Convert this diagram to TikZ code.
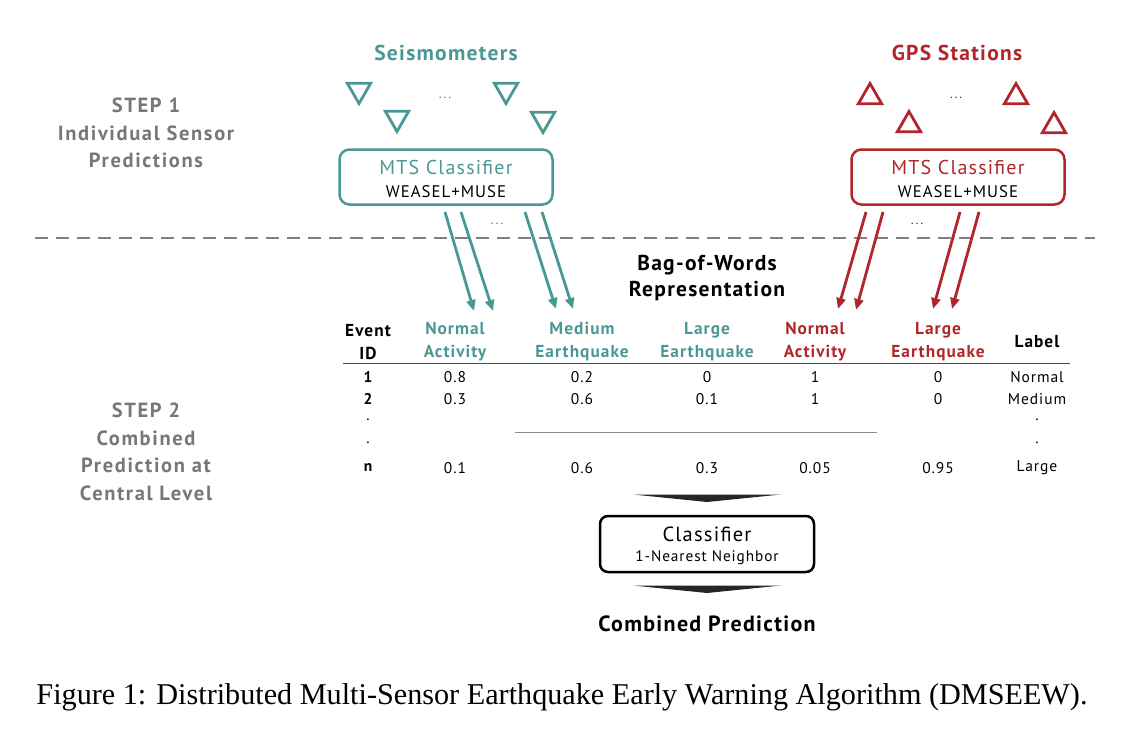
\documentclass[tikz,border=0pt]{standalone}
\usepackage{fontspec}
\setmainfont{Liberation Serif}
\newfontfamily\df{PT Sans}[LetterSpace=6]
\newfontfamily\dfw{PT Sans}[LetterSpace=8]
\usetikzlibrary{arrows.meta,shapes.geometric}
\definecolor{tealc}{HTML}{4A9896}
\definecolor{redc}{HTML}{B0262A}
\definecolor{stepgray}{HTML}{777777}
\definecolor{dashgray}{HTML}{808080}
\begin{document}
\begin{tikzpicture}[x=1pt,y=-1pt,
  sensorS/.style={regular polygon, regular polygon sides=3, shape border rotate=180, draw=tealc, line width=2.8pt, minimum size=27pt, inner sep=0pt},
  sensorG/.style={regular polygon, regular polygon sides=3, draw=redc, line width=2.8pt, minimum size=27pt, inner sep=0pt},
  mts/.style={draw, rounded corners=10pt, line width=2.5pt, minimum width=213pt, minimum height=55pt, inner sep=0pt},
  title/.style={font=\df\bfseries\fontsize{21.5}{24}\selectfont},
  steptxt/.style={font=\dfw\bfseries\fontsize{20.5}{27.5}\selectfont, text=stepgray, align=center},
  hdr/.style={font=\df\bfseries\fontsize{17.3}{23}\selectfont, align=center},
  cell/.style={font=\df\fontsize{15.5}{17}\selectfont},
  idcell/.style={font=\df\bfseries\fontsize{15.5}{17}\selectfont},
  dotsn/.style={font=\df\fontsize{14}{16}\selectfont},
  arrS/.style={draw=tealc, line width=2.8pt, -{Triangle[length=11pt,width=9pt]}},
  arrG/.style={draw=redc, line width=2.8pt, -{Triangle[length=11pt,width=9pt]}},
  wedge/.style={fill=black!85}
]
\useasboundingbox (0,0) rectangle (1123,731);

% Step labels
\node[steptxt] (step1) at (146,133) {STEP 1\\Individual Sensor\\Predictions};
\node[steptxt] (step2) at (146,452) {STEP 2\\Combined\\Prediction at\\Central Level};

% Titles
\node[title, text=tealc] (seis) at (446,53) {Seismometers};
\node[title, text=redc] (gps) at (957,53) {GPS Stations};

% Seismometer triangles
\node[sensorS] (s1) at (359,90) {};
\node[sensorS] (s2) at (397,118) {};
\node[sensorS] (s3) at (506,90) {};
\node[sensorS] (s4) at (543,119) {};
\node[dotsn, text=tealc] (sdots) at (445,98) {...};

% GPS triangles
\node[sensorG] (g1) at (870,97) {};
\node[sensorG] (g2) at (909,125) {};
\node[sensorG] (g3) at (1016,97) {};
\node[sensorG] (g4) at (1054,126) {};
\node[dotsn, text=redc] (gdots) at (956,98) {...};

% MTS classifier boxes
\node[mts, draw=tealc] (mtsS) at (446,177) {};
\node[font=\df\fontsize{20}{24}\selectfont, text=tealc] (mtsSt) at (446,167) {MTS Classifier};
\node[font=\df\fontsize{16.8}{18}\selectfont] (mtsSs) at (446,192) {WEASEL+MUSE};
\node[mts, draw=redc] (mtsG) at (958,177) {};
\node[font=\df\fontsize{20}{24}\selectfont, text=redc] (mtsGt) at (958,167) {MTS Classifier};
\node[font=\df\fontsize{16.8}{18}\selectfont] (mtsGs) at (958,192) {WEASEL+MUSE};

% dashed separator
\coordinate (dl) at (35,238);
\coordinate (dr) at (1095,238);
\draw[dashgray, line width=2.8pt, dash pattern=on 13pt off 8pt] (dl) -- (dr);

% arrows
\coordinate (as1) at (445,212); \coordinate (ae1) at (474,311);
\coordinate (as2) at (461,212); \coordinate (ae2) at (493,311);
\coordinate (as3) at (525,212); \coordinate (ae3) at (556,309);
\coordinate (as4) at (542,212); \coordinate (ae4) at (573,309);
\draw[arrS] (as1) -- (ae1);
\draw[arrS] (as2) -- (ae2);
\draw[arrS] (as3) -- (ae3);
\draw[arrS] (as4) -- (ae4);
\node[dotsn, text=tealc] (adotsS) at (497,224) {...};

\coordinate (ag1) at (866,212); \coordinate (agE1) at (838,309);
\coordinate (ag2) at (883,212); \coordinate (agE2) at (856,310);
\coordinate (ag3) at (960,212); \coordinate (agE3) at (933,309);
\coordinate (ag4) at (979,212); \coordinate (agE4) at (952,309);
\draw[arrG] (ag1) -- (agE1);
\draw[arrG] (ag2) -- (agE2);
\draw[arrG] (ag3) -- (agE3);
\draw[arrG] (ag4) -- (agE4);
\node[dotsn, text=redc] (adotsG) at (917,224) {...};

% Bag of words
\node[font=\df\bfseries\fontsize{21.5}{26}\selectfont, align=center] (bow) at (707,278) {Bag-of-Words\\Representation};

% table header
\node[hdr] (hID) at (368,342) {Event\\ID};
\node[hdr, text=tealc] (h1) at (455,342) {Normal\\Activity};
\node[hdr, text=tealc] (h2) at (582,342) {Medium\\Earthquake};
\node[hdr, text=tealc] (h3) at (707,342) {Large\\Earthquake};
\node[hdr, text=redc] (h4) at (815,342) {Normal\\Activity};
\node[hdr, text=redc] (h5) at (938,342) {Large\\Earthquake};
\node[hdr] (hL) at (1037,342) {Label};
\coordinate (rl) at (343,363);
\coordinate (rr) at (1070,363);
\draw[black!70, line width=1pt] (rl) -- (rr);

% rows
\node[idcell] (r1id) at (368,377) {1};
\node[cell] (r1a) at (455,377) {0.8};
\node[cell] (r1b) at (582,377) {0.2};
\node[cell] (r1c) at (707,377) {0};
\node[cell] (r1d) at (815,377) {1};
\node[cell] (r1e) at (938,377) {0};
\node[cell] (r1l) at (1037,377) {Normal};

\node[idcell] (r2id) at (368,399) {2};
\node[cell] (r2a) at (455,399) {0.3};
\node[cell] (r2b) at (582,399) {0.6};
\node[cell] (r2c) at (707,399) {0.1};
\node[cell] (r2d) at (815,399) {1};
\node[cell] (r2e) at (938,399) {0};
\node[cell] (r2l) at (1037,399) {Medium};

\node[cell] (d1id) at (368,420) {.};
\node[cell] (d1l) at (1037,420) {.};
\node[cell] (d2id) at (368,443) {.};
\node[cell] (d2l) at (1037,443) {.};
\coordinate (gl) at (515,432);
\coordinate (gr) at (877,432);
\draw[black!45, line width=0.8pt] (gl) -- (gr);

\node[idcell] (rnid) at (368,468) {n};
\node[cell] (rna) at (455,468) {0.1};
\node[cell] (rnb) at (582,468) {0.6};
\node[cell] (rnc) at (707,468) {0.3};
\node[cell] (rnd) at (815,468) {0.05};
\node[cell] (rne) at (938,468) {0.95};
\node[cell] (rnl) at (1037,468) {Large};

% wedges
\fill[wedge] (633,494.5) -- (781,494.5) -- (707,502) -- cycle;
\node[draw, rounded corners=8pt, line width=2.5pt, minimum width=214pt, minimum height=56pt, inner sep=0pt] (knn) at (707,544) {};
\node[font=\df\fontsize{20.5}{24}\selectfont] (knnt) at (707,534) {Classifier};
\node[font=\df\fontsize{15.3}{17}\selectfont] (knns) at (707,558) {1-Nearest Neighbor};
\fill[wedge] (633,585.5) -- (781,585.5) -- (707,593) -- cycle;

\node[font=\df\bfseries\fontsize{22}{24}\selectfont] (comb) at (707,624) {Combined Prediction};

% caption
\node[font=\fontsize{30.2}{34}\selectfont] (cap) at (562,697) {Figure 1: Distributed Multi-Sensor Earthquake Early Warning Algorithm (DMSEEW).};
\end{tikzpicture}
\end{document}
